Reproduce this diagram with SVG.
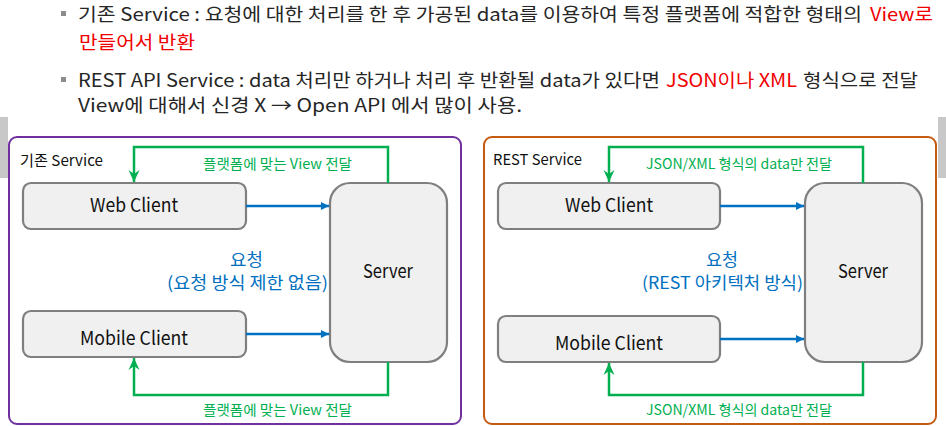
<svg xmlns="http://www.w3.org/2000/svg" width="946" height="426" viewBox="0 0 946 426">
<defs>
<style>
text{font-family:"Noto Sans CJK KR","Noto Sans",sans-serif;}
.top{font-size:18px;fill:#262626;}
.red{fill:#f00000;}
.node{fill:#f0f0f0;stroke:#7f7f7f;stroke-width:2.2;}
.lbl{font-size:19px;fill:#111;}
.ttl{font-size:15px;fill:#111;}
.grn{fill:none;stroke:#00b050;stroke-width:2.5;}
.gtx{font-size:14px;fill:#00b050;}
.blu{stroke:#0070c0;stroke-width:2.5;fill:none;}
.btx{font-size:17px;fill:#0070c0;}
</style>
<marker id="ga" markerUnits="userSpaceOnUse" markerWidth="14" markerHeight="14" refX="12" refY="6" orient="auto">
<path d="M0,0.5 L12,6 L0,11.5 L4,6 z" fill="#00b050"/>
</marker>
<marker id="ba" markerUnits="userSpaceOnUse" markerWidth="10" markerHeight="10" refX="8" refY="4" orient="auto">
<path d="M0,0 L8,4 L0,8 z" fill="#0070c0"/>
</marker>
</defs>
<rect width="946" height="426" fill="#fff"/>
<!-- side bars -->
<rect x="0" y="117" width="8" height="61" fill="#c8c8c8"/>
<rect x="938" y="117" width="8" height="61" fill="#c8c8c8"/>
<!-- top text -->
<g id="bullets">
<rect x="61" y="11" width="5" height="5" fill="#8c8c8c"/>
<rect x="61" y="77" width="5" height="5" fill="#8c8c8c"/>
<text class="top" x="78" y="21" textLength="784" lengthAdjust="spacingAndGlyphs">기존 Service : 요청에 대한 처리를 한 후 가공된 data를 이용하여 특정 플랫폼에 적합한 형태의</text>
<text class="top red" x="870" y="21" textLength="63" lengthAdjust="spacingAndGlyphs">View로</text>
<text class="top red" x="79" y="49" textLength="116" lengthAdjust="spacingAndGlyphs">만들어서 반환</text>
<text class="top" x="78" y="87" textLength="582" lengthAdjust="spacingAndGlyphs">REST API Service : data 처리만 하거나 처리 후 반환될 data가 있다면</text>
<text class="top red" x="666" y="87" textLength="131" lengthAdjust="spacingAndGlyphs">JSON이나 XML</text>
<text class="top" x="803" y="87" textLength="115" lengthAdjust="spacingAndGlyphs">형식으로 전달</text>
<text class="top" x="78" y="112" textLength="444" lengthAdjust="spacingAndGlyphs">View에 대해서 신경 X  → Open API 에서 많이 사용.</text>
</g>
<!-- left panel -->
<g id="panel-left">
<rect x="9" y="137" width="452" height="287" rx="8" fill="none" stroke="#7030a0" stroke-width="2"/>
<text class="ttl" x="20" y="166" textLength="83" lengthAdjust="spacingAndGlyphs">기존 Service</text>
</g>
<g id="left-web">
<rect class="node" x="23" y="183" width="223" height="46" rx="8"/>
<text class="lbl" x="90" y="212" textLength="88" lengthAdjust="spacingAndGlyphs">Web Client</text>
</g>
<g id="left-mobile">
<rect class="node" x="23" y="311" width="223" height="46" rx="8"/>
<text class="lbl" x="80" y="345" textLength="108" lengthAdjust="spacingAndGlyphs">Mobile Client</text>
</g>
<g id="left-server">
<rect class="node" x="330" y="183" width="117" height="179" rx="20"/>
<text class="lbl" x="363" y="278" textLength="50" lengthAdjust="spacingAndGlyphs">Server</text>
</g>
<!-- right panel -->
<g id="panel-right">
<rect x="484" y="137" width="452" height="287" rx="8" fill="none" stroke="#c55a11" stroke-width="2"/>
<text class="ttl" x="493" y="165" textLength="89" lengthAdjust="spacingAndGlyphs">REST Service</text>
</g>
<g id="right-web">
<rect class="node" x="498" y="183" width="222" height="46" rx="8"/>
<text class="lbl" x="565" y="212" textLength="88" lengthAdjust="spacingAndGlyphs">Web Client</text>
</g>
<g id="right-mobile">
<rect class="node" x="498" y="316" width="222" height="46" rx="8"/>
<text class="lbl" x="555" y="350" textLength="108" lengthAdjust="spacingAndGlyphs">Mobile Client</text>
</g>
<g id="right-server">
<rect class="node" x="805" y="183" width="117" height="179" rx="20"/>
<text class="lbl" x="838" y="278" textLength="50" lengthAdjust="spacingAndGlyphs">Server</text>
</g>
<!-- connectors -->
<g id="connectors">
<polyline class="grn" points="388,183 388,147 134,147 134,182" marker-end="url(#ga)"/>
<polyline class="grn" points="388,362 388,395 134,395 134,358" marker-end="url(#ga)"/>
<line class="blu" x1="246" y1="206" x2="329" y2="206" marker-end="url(#ba)"/>
<line class="blu" x1="246" y1="334" x2="329" y2="334" marker-end="url(#ba)"/>
<polyline class="grn" points="863,183 863,147 609,147 609,182" marker-end="url(#ga)"/>
<polyline class="grn" points="863,362 863,395 609,395 609,363" marker-end="url(#ga)"/>
<line class="blu" x1="720" y1="206" x2="804" y2="206" marker-end="url(#ba)"/>
<line class="blu" x1="720" y1="339" x2="804" y2="339" marker-end="url(#ba)"/>
<text class="gtx" x="203" y="169" textLength="149" lengthAdjust="spacingAndGlyphs">플랫폼에 맞는 View 전달</text>
<text class="gtx" x="203" y="415" textLength="149" lengthAdjust="spacingAndGlyphs">플랫폼에 맞는 View 전달</text>
<text class="gtx" x="646" y="169" textLength="186" lengthAdjust="spacingAndGlyphs">JSON/XML 형식의 data만 전달</text>
<text class="gtx" x="646" y="415" textLength="186" lengthAdjust="spacingAndGlyphs">JSON/XML 형식의 data만 전달</text>
<text class="btx" x="230" y="266" textLength="33" lengthAdjust="spacingAndGlyphs">요청</text>
<text class="btx" x="167" y="289" textLength="161" lengthAdjust="spacingAndGlyphs">(요청 방식 제한 없음)</text>
<text class="btx" x="706" y="266" textLength="32" lengthAdjust="spacingAndGlyphs">요청</text>
<text class="btx" x="642" y="289" textLength="161" lengthAdjust="spacingAndGlyphs">(REST 아키텍처 방식)</text>
</g>
</svg>
